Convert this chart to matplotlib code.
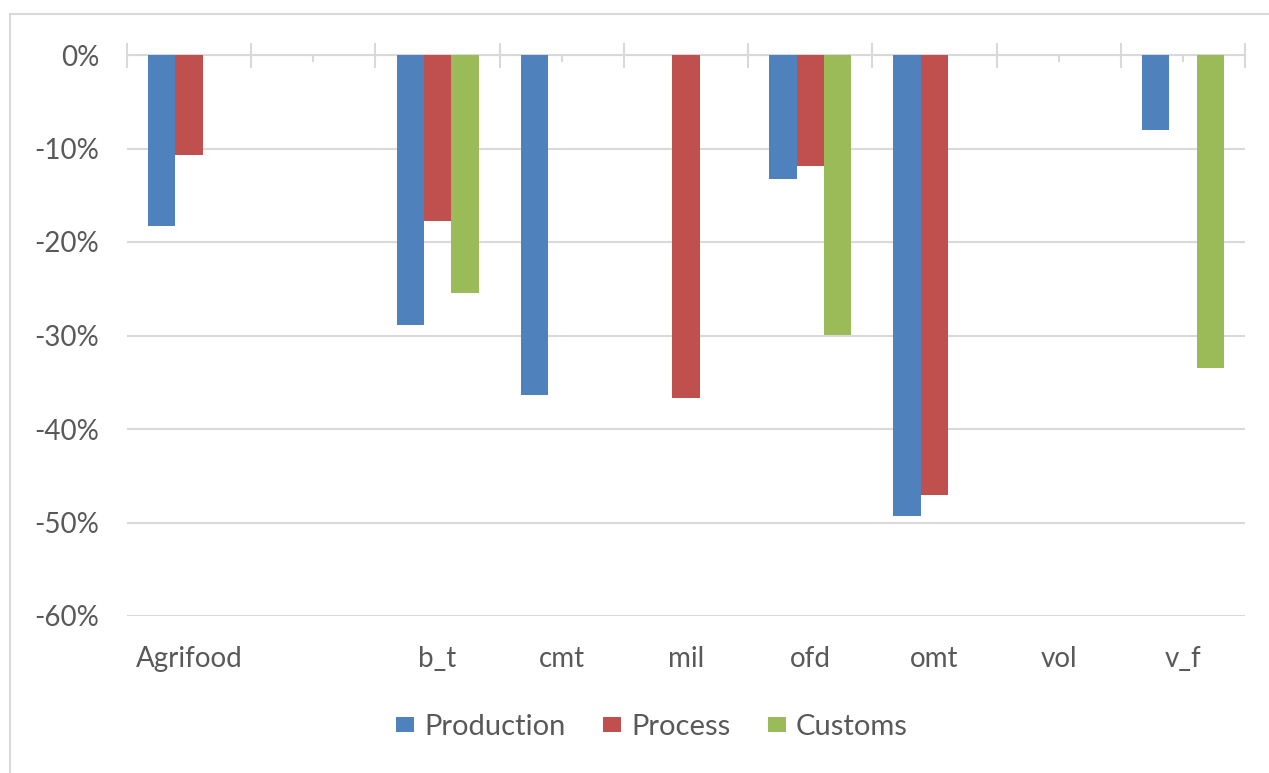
import numpy as np
import matplotlib
matplotlib.use("Agg")
import matplotlib.pyplot as plt
from matplotlib.lines import Line2D
from matplotlib.ticker import FixedLocator, FuncFormatter

# --- data ---------------------------------------------------------------------

categories = ["Agrifood", "", "b_t", "cmt", "mil", "ofd", "omt", "vol", "v_f"]
series_names = ["Production", "Process", "Customs"]
production = [-18.3, np.nan, -28.9, -36.4, np.nan, -13.3, -49.3, np.nan, -8.0]
process = [-10.7, np.nan, -17.8, np.nan, -36.7, -11.9, -47.1, np.nan, np.nan]
customs = [np.nan, np.nan, -25.5, np.nan, np.nan, -29.9, np.nan, np.nan, -33.5]
y_ticks = [0, -10, -20, -30, -40, -50, -60]

COLORS = ["#4F81BD", "#C0504D", "#9BBB59"]
GRID = "#D9D9D9"
TEXT = "#595959"
FS = 20

plt.rcParams["font.family"] = ["Lato", "DejaVu Sans"]

W, H = 1269, 773
fig = plt.figure(figsize=(W / 100, H / 100), dpi=100)
ax = fig.add_axes([127 / W, 157 / H, (1245 - 127) / W, (616 - 55) / H])

x = np.arange(len(categories))
width = 0.22
for i, (name, vals) in enumerate(zip(series_names, [production, process, customs])):
    vals = np.asarray(vals, dtype=float)
    keep = ~np.isnan(vals)
    ax.bar(x[keep] + (i - 1) * width, vals[keep], width=width,
           color=COLORS[i], label=name, zorder=2)

ax.set_xlim(-0.5, len(categories) - 0.5)
ax.set_ylim(-60, 0)

# y axis: gridlines only, plain hyphen for negatives
ax.set_yticks(y_ticks)
ax.yaxis.set_major_formatter(FuncFormatter(lambda v, _: f"{v:.0f}%".replace("\u2212", "-")))
ax.yaxis.grid(True, color=GRID, linewidth=1.5, zorder=0)
ax.tick_params(axis="y", length=0, pad=20, labelsize=FS, labelcolor=TEXT)

# x axis sits at 0 on top; boundary ticks cross it, small ticks at centres
ax.xaxis.set_major_locator(FixedLocator(np.arange(-0.5, len(categories), 1.0)))
ax.xaxis.set_minor_locator(FixedLocator(x))
ax.tick_params(axis="x", which="major", direction="inout", length=18,
               width=1.5, color=GRID, top=True, bottom=False,
               labeltop=False, labelbottom=False)
ax.tick_params(axis="x", which="minor", direction="in", length=5,
               width=1.5, color=GRID, top=True, bottom=False,
               labeltop=False, labelbottom=False)
for s in ["left", "right", "bottom"]:
    ax.spines[s].set_visible(False)
ax.spines["top"].set_color(GRID)
ax.spines["top"].set_linewidth(1.5)
ax.spines["top"].set_zorder(1)

# category names below the plot area
for xi, name in zip(x, categories):
    ax.annotate(name, (xi, -60), xytext=(0, -31), textcoords="offset points",
                ha="center", va="center", fontsize=FS, color=TEXT,
                annotation_clip=False)

leg = fig.legend(loc="center", bbox_to_anchor=(652 / W, 1 - 727 / H), ncol=3,
                 frameon=False, fontsize=21, handlelength=0.6, handleheight=0.42,
                 handletextpad=0.35, columnspacing=1.3)
for t in leg.get_texts():
    t.set_color(TEXT)

# chart frame (top and left edges)
fig.add_artist(Line2D([10 / W, 1], [1 - 14 / H, 1 - 14 / H], color=GRID, linewidth=1.5))
fig.add_artist(Line2D([10 / W, 10 / W], [0, 1 - 14 / H], color=GRID, linewidth=1.5))

fig.savefig("out.png", dpi=100, facecolor="white")
